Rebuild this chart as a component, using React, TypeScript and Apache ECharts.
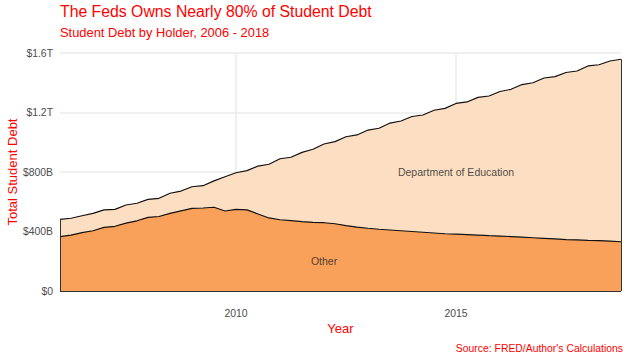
import React, { useEffect, useRef } from "react";
import * as echarts from "echarts";

// Quarterly data, 2006 Q1 – 2018 Q4, billions of dollars
const startYear = 2006;
const totalDebt: number[] = [
  482, 489, 506, 522,
  545, 549, 578, 590,
  616, 623, 657, 672,
  701, 708, 740, 768,
  795, 809, 840, 852,
  889, 899, 932, 953,
  988, 1004, 1037, 1049,
  1082, 1094, 1129, 1143,
  1173, 1183, 1215, 1228,
  1261, 1271, 1302, 1311,
  1341, 1356, 1388, 1400,
  1432, 1441, 1469, 1479,
  1513, 1521, 1546, 1558,
];
const otherDebt: number[] = [
  365, 376, 393, 405,
  428, 435, 456, 472,
  495, 501, 522, 539,
  556, 558, 563, 538,
  549, 545, 518, 491,
  479, 473, 466, 462,
  459, 452, 440, 430,
  422, 415, 410, 405,
  400, 395, 390, 385,
  382, 379, 376, 372,
  369, 366, 362, 358,
  354, 350, 346, 344,
  341, 339, 335, 331,
];
const yTickLabels = ["$0", "$400B", "$800B", "$1.2T", "$1.6T"];
const xTickYears = [2010, 2015];
const annotations = [
  { text: "Department of Education", x: 2015, y: 800 },
  { text: "Other", x: 2012, y: 200 },
];

const RED = "#FF0000";
const FONT = "'Liberation Sans', Arial, Helvetica, sans-serif";

export default function App() {
  const ref = useRef<HTMLDivElement>(null);
  useEffect(() => {
    if (!ref.current) return;
    const chart = echarts.init(ref.current, null, { renderer: "svg" });
    const xs = totalDebt.map((_, i) => startYear + i * 0.25);
    const totalData = totalDebt.map((v, i) => [xs[i], v]);
    const otherData = otherDebt.map((v, i) => [xs[i], v]);
    const last = xs.length - 1;
    const yearsForLines: number[] = [];
    for (let y = startYear; y <= 2018; y++) yearsForLines.push(y);
    const splitColors = yearsForLines.map((y) =>
      xTickYears.includes(y) ? "#EBEBEB" : "rgba(0,0,0,0)"
    );
    const edgeLine = (x0: number, y0: number, x1: number, y1: number) => [
      { coord: [x0, y0] },
      { coord: [x1, y1] },
    ];
    chart.setOption({
      animation: false,
      textStyle: { fontFamily: FONT },
      title: [
        {
          text: "The Feds Owns Nearly 80% of Student Debt",
          left: 55,
          top: -2,
          textStyle: { color: RED, fontSize: 15.8, fontWeight: "normal", fontFamily: FONT },
        },
        {
          text: "Student Debt by Holder, 2006 - 2018",
          left: 55,
          top: 20.5,
          textStyle: { color: RED, fontSize: 12.9, fontWeight: "normal", fontFamily: FONT },
        },
        {
          text: "Source: FRED/Author's Calculations",
          right: 2,
          bottom: 2,
          textStyle: { color: RED, fontSize: 10.4, fontWeight: "normal", fontFamily: FONT },
        },
      ],
      grid: { left: 60, right: 9, top: 53, bottom: 69, containLabel: false, outerBoundsMode: "none" },
      xAxis: {
        type: "value",
        min: startYear,
        max: xs[last],
        interval: 1,
        name: "Year",
        nameLocation: "middle",
        nameGap: 31,
        nameMoveOverlap: false,
        nameTextStyle: { color: RED, fontSize: 13, fontFamily: FONT },
        axisLine: { show: false },
        axisTick: { show: false },
        axisLabel: {
          color: "#4D4D4D",
          fontSize: 10.4,
          margin: 17,
          formatter: (v: number) => (xTickYears.includes(v) ? String(v) : ""),
        },
        splitLine: { show: true, lineStyle: { color: splitColors, width: 1.5 } },
      },
      yAxis: {
        type: "value",
        min: 0,
        max: 1600,
        interval: 400,
        name: "Total Student Debt",
        nameLocation: "middle",
        nameGap: 41,
        nameMoveOverlap: false,
        nameTextStyle: { color: RED, fontSize: 13, fontFamily: FONT },
        axisLine: { show: false },
        axisTick: { show: false },
        axisLabel: {
          color: "#4D4D4D",
          fontSize: 10.4,
          margin: 7,
          formatter: (v: number) => yTickLabels[Math.round(v / 400)] ?? "",
        },
        splitLine: { show: true, lineStyle: { color: "#EBEBEB", width: 1.5 } },
      },
      series: [
        {
          name: "Department of Education",
          type: "line",
          data: totalData,
          symbol: "none",
          z: 2,
          lineStyle: { color: "#111", width: 1.2 },
          areaStyle: { color: "#FCDFC3", opacity: 1 },
        },
        {
          name: "Other",
          type: "line",
          data: otherData,
          symbol: "none",
          z: 3,
          lineStyle: { color: "#111", width: 1.2 },
          areaStyle: { color: "#F9A15A", opacity: 1 },
          markLine: {
            silent: true,
            symbol: "none",
            label: { show: false },
            lineStyle: { color: "#333", width: 1, type: "solid" },
            data: [
              edgeLine(xs[0], 0, xs[0], totalDebt[0]),
              edgeLine(xs[last], 0, xs[last], totalDebt[last]),
              edgeLine(xs[0], 0, xs[last], 0),
            ],
          },
        },
        {
          name: "labels",
          type: "scatter",
          z: 5,
          symbolSize: 0,
          silent: true,
          data: annotations.map((a) => ({ value: [a.x, a.y], name: a.text })),
          label: {
            show: true,
            position: "inside",
            formatter: (p: any) => p.name,
            color: "#222",
            fontSize: 10.5,
            fontFamily: FONT,
          },
        },
      ],
    });
    return () => chart.dispose();
  }, []);
  return (
    <div
      ref={ref}
      style={{ position: "fixed", left: 0, top: 0, width: 630, height: 360, background: "#fff" }}
    />
  );
}
